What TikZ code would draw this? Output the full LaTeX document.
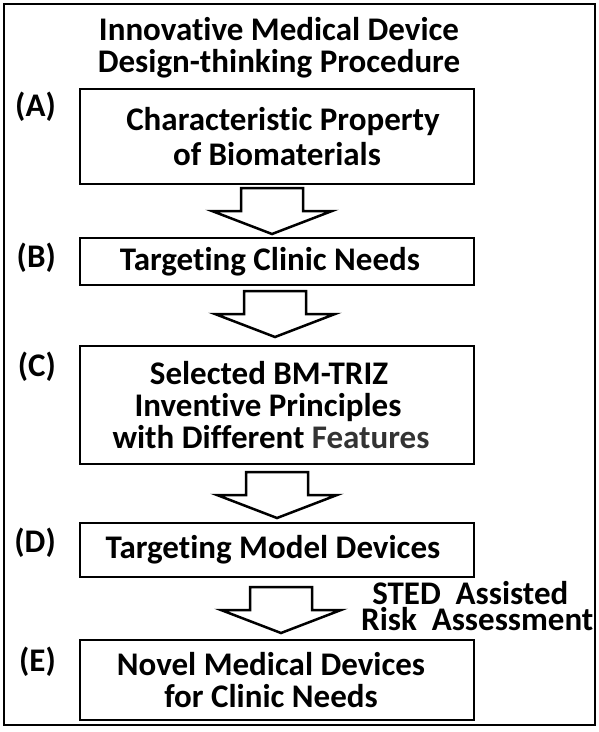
\documentclass[tikz,border=0pt]{standalone}
\usepackage{fontspec}
\setmainfont{Carlito}[Ligatures=NoCommon]
\usepackage{tikz}
\usetikzlibrary{positioning}
\usepackage{xcolor}

\newcommand\stagefont{\fontsize{33}{32}\selectfont\bfseries}

\begin{document}
\begin{tikzpicture}[
		% Style definitions - sizes in pt, one pt per pixel of the page
		stage/.style={draw, line width=2.5pt, outer sep=0pt, inner sep=0pt, minimum width=394pt, align=center, font=\stagefont},
		tag/.style={anchor=east, inner sep=0pt, font=\stagefont},
		title/.style={align=center, inner sep=0pt, font=\stagefont},
		note/.style={align=center, inner sep=0pt, font=\stagefont},
		% hollow block arrow, drawn down from the top of its shaft
		pics/blockdown/.style={code={
				\draw[line width=2.5pt, line join=miter, fill=white]
				(-31pt,0pt) -- (31pt,0pt) -- (31pt,-23pt) -- (60pt,-23pt) -- (0pt,-46pt)
				-- (-60pt,-23pt) -- (-31pt,-23pt) -- cycle;}},
		]
		\useasboundingbox (0,0) rectangle (599pt,-732pt);
		\draw[line width=2.5pt] (4pt,-4pt) rectangle (595pt,-725pt);

		% === Title ===
		\node[title] (title) at (279pt,-47.5pt) {Innovative Medical Device\\Design-thinking Procedure};

		% === Stages, top to bottom ===
		\node[stage, minimum height=95pt] (box-a) at (277pt,-136.5pt) {\hspace*{12pt}Characteristic Property\\[3pt]of Biomaterials};
		\node[stage, minimum height=47pt, below=54pt of box-a] (box-b) {Targeting Clinic Needs\hspace*{14pt}};
		\node[stage, minimum height=118pt, below=61pt of box-b] (box-c) {\mbox{Selected BM-TRIZ\hspace{16pt}}\\\mbox{Inventive Principles\hspace{18pt}}\\\mbox{with Different \textcolor{black!80}{Features}\hspace{12pt}}};
		\node[stage, minimum height=54pt, below=59pt of box-c] (box-d) {Targeting Model Devices\hspace*{8pt}};
		\node[stage, minimum height=80pt, below=63pt of box-d] (box-e) {Novel Medical Devices\hspace*{12pt}\\for Clinic Needs\hspace*{12pt}};

		% === Stage letters ===
		\node[tag] (tag-a) at ([xshift=-24pt, yshift=-18pt]box-a.north west) {(A)};
		\node[tag] (tag-b) at ([xshift=-24pt, yshift=-20pt]box-b.north west) {(B)};
		\node[tag] (tag-c) at ([xshift=-24pt, yshift=-21pt]box-c.north west) {(C)};
		\node[tag] (tag-d) at ([xshift=-24pt, yshift=-20pt]box-d.north west) {(D)};
		\node[tag] (tag-e) at ([xshift=-24pt, yshift=-22pt]box-e.north west) {(E)};

		% === Block arrows between stages ===
		\coordinate[below=4pt of box-a, xshift=-5pt] (arrow-ab);
		\coordinate[below=6pt of box-b, xshift=-2pt] (arrow-bc);
		\coordinate[below=8pt of box-c] (arrow-cd);
		\coordinate[below=10pt of box-d, xshift=4pt] (arrow-de);
		\pic at (arrow-ab) {blockdown};
		\pic at (arrow-bc) {blockdown};
		\pic at (arrow-cd) {blockdown};
		\pic at (arrow-de) {blockdown};

		% === Side note on the last step ===
		\node[note, anchor=west, right=80pt of arrow-de, yshift=-19.5pt] (sted) {\mbox{STED~~Assisted\hspace{14pt}}\\[-6pt]Risk~~Assessment};

	\end{tikzpicture}
\end{document}
